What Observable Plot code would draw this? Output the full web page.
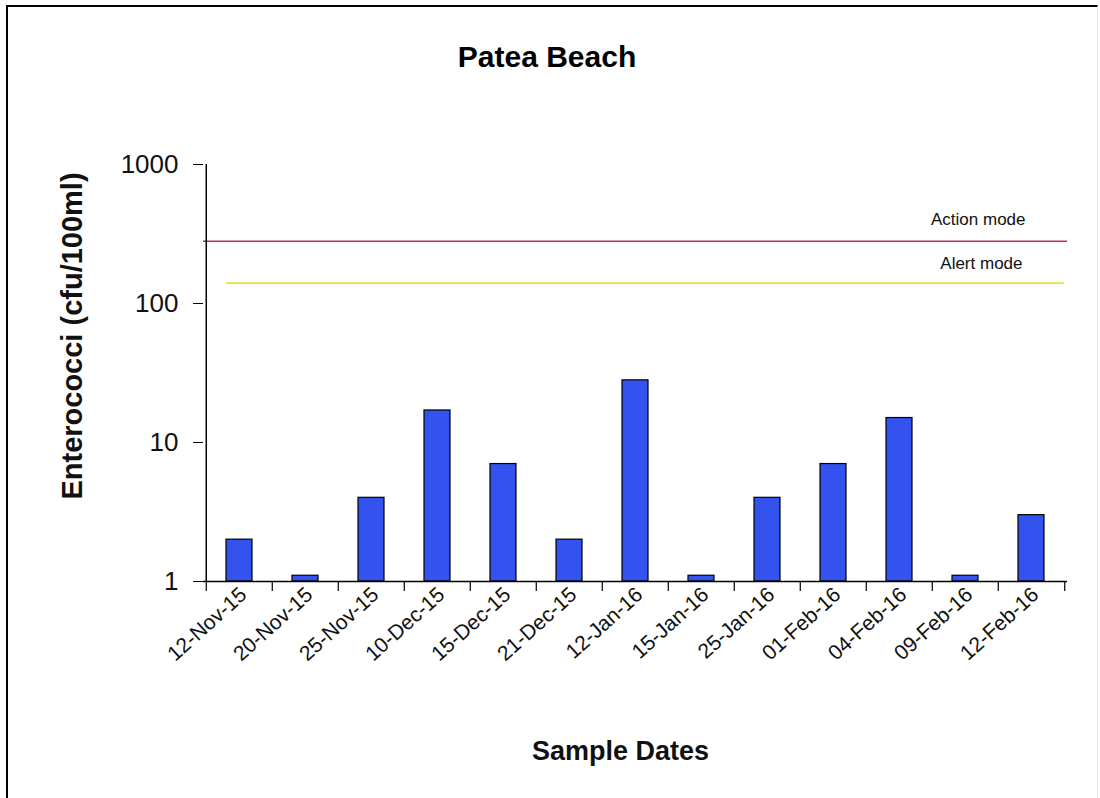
<!DOCTYPE html>
<html>
<head>
<meta charset="utf-8">
<script src="https://cdn.jsdelivr.net/npm/d3@7"></script>
<script src="https://cdn.jsdelivr.net/npm/@observablehq/plot@0.6"></script>
<style>
  html, body { margin: 0; padding: 0; background: #fff; overflow: hidden; }
  body { width: 1100px; height: 798px; position: relative; font-family: "Liberation Sans", Arial, sans-serif; }
  #frame { position: absolute; left: 6px; top: 5px; width: 1089px; height: 800px; border-left: 2px solid #000; border-top: 2px solid #000; border-right: 1px solid #e4e4e4; pointer-events: none; }
  #title { height: 100px; position: relative; }
  #title span { position: absolute; left: 0; width: 1094px; top: 40px; text-align: center; font-size: 30px; font-weight: bold; color: #000; }
</style>
</head>
<body>
<div id="title"><span>Patea Beach</span></div>
<div id="chart"></div>
<div id="frame"></div>
<script>
const dates = ["12-Nov-15","20-Nov-15","25-Nov-15","10-Dec-15","15-Dec-15","21-Dec-15","12-Jan-16","15-Jan-16","25-Jan-16","01-Feb-16","04-Feb-16","09-Feb-16","12-Feb-16"];
const counts = [2, 1.1, 4, 17, 7, 2, 28, 1.1, 4, 7, 15, 1.1, 3];
const actionLevel = 280;
const alertLevel = 140;
const yTicks = [1, 10, 100, 1000];

const data = dates.map((d, i) => ({date: d, value: counts[i]}));

const W = 1100, H = 698;
const mL = 203, mR = 33, mT = 64, mB = 217;
const step = (W - mL - mR) / dates.length;

const chart = Plot.plot({
  width: W,
  height: H,
  marginLeft: mL,
  marginRight: mR,
  marginTop: mT,
  marginBottom: mB,
  style: {fontFamily: "Liberation Sans, Arial, sans-serif", color: "#111", background: "#fff"},
  x: {type: "band", domain: dates, paddingInner: 0.6, paddingOuter: 0.3},
  y: {type: "log", domain: [1, 1000]},
  marks: [
    Plot.ruleY([actionLevel], {stroke: "#c8285a", strokeWidth: 1.5}),
    Plot.ruleY([alertLevel], {x1: () => dates[0], x2: () => dates[dates.length - 1], stroke: "#e6e62e", strokeWidth: 1.8, insetRight: -step * 0.3}),
    Plot.barY(data, {x: "date", y1: 1, y2: "value", fill: "#3352ee", stroke: "#000", strokeWidth: 1.2}),
    Plot.text(["Action mode"], {y: actionLevel, frameAnchor: "right", textAnchor: "end", dx: -42, dy: -22, fontSize: 17, fill: "#111"}),
    Plot.text(["Alert mode"], {y: alertLevel, frameAnchor: "right", textAnchor: "end", dx: -45, dy: -20, fontSize: 17, fill: "#111"}),
    // axis lines
    Plot.ruleY([1], {stroke: "#000", strokeWidth: 1.5}),
    Plot.ruleX([dates[0]], {y1: 1, y2: 1000, dx: -step / 2, stroke: "#000", strokeWidth: 1.5}),
    // x tick marks at category boundaries
    Plot.ruleX(dates, {x: d => d, dx: -step / 2, y1: 1, y2: 1, insetBottom: -10, stroke: "#000", strokeWidth: 1.2}),
    Plot.ruleX([dates[dates.length - 1]], {dx: step / 2, y1: 1, y2: 1, insetBottom: -10, stroke: "#000", strokeWidth: 1.2}),
    Plot.axisX({tickSize: 0, tickRotate: -42, tickPadding: 10, dx: 4, fontSize: 21, label: null}),
    Plot.axisY({ticks: yTicks, tickFormat: d => String(d), tickSize: 10, tickPadding: 15, fontSize: 26, label: null, stroke: "#000"}),
    Plot.text(["Enterococci (cfu/100ml)"], {frameAnchor: "left", textAnchor: "middle", rotate: -90, dx: -131, dy: -37, fontSize: 29, fontWeight: "bold", fill: "#111"}),
    Plot.text(["Sample Dates"], {frameAnchor: "bottom", dy: 178, dx: -15, fontSize: 27, fontWeight: "bold", fill: "#111"})
  ]
});
document.getElementById("chart").appendChild(chart);
</script>
</body>
</html>
